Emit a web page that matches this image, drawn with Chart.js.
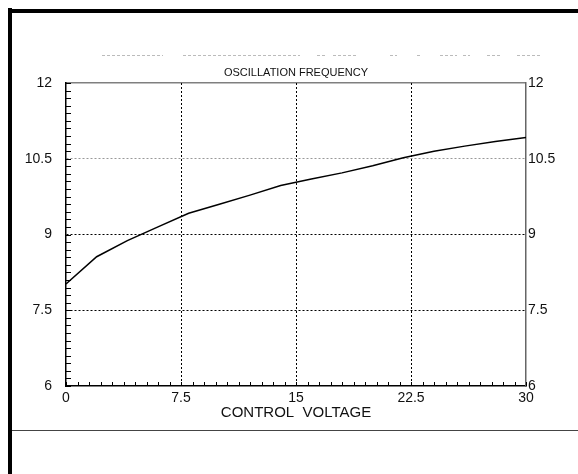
<!DOCTYPE html>
<html>
<head>
<meta charset="utf-8">
<script src="https://cdn.jsdelivr.net/npm/chart.js@4"></script>
<style>
  html, body { margin: 0; padding: 0; background: #fff; }
  #wrap { width: 578px; height: 474px; }
</style>
</head>
<body>
<div id="wrap"><canvas id="freqChart" width="578" height="474"></canvas></div>
<script>
// Data
const voltage = [0, 2, 4, 6, 8, 10, 12, 14, 16, 18, 20, 22, 24, 26, 28, 30];
const frequency = [8.02, 8.56, 8.88, 9.15, 9.42, 9.60, 9.78, 9.97, 10.10, 10.22, 10.36, 10.52, 10.65, 10.75, 10.84, 10.92];
const xTicks = [0, 7.5, 15, 22.5, 30];
const yTicks = [6, 7.5, 9, 10.5, 12];

const TEXT = '#111';
const tickFont = { family: 'Liberation Sans', size: 14 };

/* ---------- plugins ---------- */

// Outer frame, header noise and plot title
const framePlugin = {
    id: 'frame',
    beforeDraw(chart) {
        const ctx = chart.ctx;
        ctx.save();
        ctx.fillStyle = '#fff';
        ctx.fillRect(0, 0, chart.width, chart.height);

        ctx.fillStyle = '#000';
        ctx.fillRect(8, 8, 4, chart.height - 8);
        ctx.fillRect(8, 9, chart.width - 8, 4);

        ctx.strokeStyle = '#444';
        ctx.lineWidth = 1;
        ctx.beginPath();
        ctx.moveTo(12, 430.5);
        ctx.lineTo(chart.width, 430.5);
        ctx.stroke();

        // faint unreadable header line
        ctx.strokeStyle = '#bbb';
        ctx.setLineDash([3, 2]);
        [[102, 163], [183, 300], [317, 325], [333, 357], [390, 397],
         [417, 422], [440, 457], [463, 470], [487, 500], [517, 540]].forEach(([a, b]) => {
            ctx.beginPath();
            ctx.moveTo(a, 55.5);
            ctx.lineTo(b, 55.5);
            ctx.stroke();
        });
        ctx.restore();
    },
    afterDraw(chart) {
        const { ctx, chartArea } = chart;
        ctx.save();
        ctx.fillStyle = TEXT;
        ctx.font = '11px "Liberation Sans"';
        ctx.textAlign = 'center';
        ctx.textBaseline = 'middle';
        ctx.fillText('OSCILLATION FREQUENCY', (chartArea.left + chartArea.right) / 2, 73);
        ctx.restore();
    }
};

// Small inward ticks on the left and bottom axes
const minorTicks = {
    id: 'minorTicks',
    afterDatasetsDraw(chart) {
        const { ctx, scales } = chart;
        const x = scales.x, y = scales.y;
        ctx.save();
        ctx.strokeStyle = '#000';
        ctx.lineWidth = 1;
        ctx.beginPath();
        for (let i = 0; i <= 40; i++) {
            const py = Math.round(y.getPixelForValue(6 + i * 0.15)) + 0.5;
            ctx.moveTo(x.left, py);
            ctx.lineTo(x.left + 5, py);
            const px = Math.round(x.getPixelForValue(i * 0.75)) + 0.5;
            ctx.moveTo(px, y.bottom);
            ctx.lineTo(px, y.bottom - 4);
        }
        ctx.stroke();
        ctx.restore();
    }
};

/* ---------- chart ---------- */

const ctx = document.getElementById('freqChart').getContext('2d');
const freqChart = new Chart(ctx, {
    type: 'scatter',
    data: {
        datasets: [{
            label: 'Oscillation frequency',
            data: voltage.map((v, i) => ({ x: v, y: frequency[i] })),
            showLine: true,
            borderColor: '#000',
            borderWidth: 1.5,
            pointRadius: 0,
            tension: 0,
            yAxisID: 'y'
        }]
    },
    options: {
        responsive: false,
        animation: false,
        layout: { padding: { top: 83, bottom: 52, left: 0, right: 0 } },
        plugins: { legend: { display: false }, tooltip: { enabled: false } },
        scales: {
            x: {
                type: 'linear',
                min: 0,
                max: 30,
                afterFit: s => { s.height = 36; },
                afterBuildTicks: s => { s.ticks = xTicks.map(v => ({ value: v })); },
                ticks: { color: TEXT, font: tickFont, padding: 4, maxRotation: 0, autoSkip: false },
                grid: {
                    drawTicks: false,
                    color: c => (c.tick && (c.tick.value === 0 || c.tick.value === 30)) ? 'rgba(0,0,0,0)' : '#000',
                    lineWidth: 1
                },
                border: { display: true, color: '#000', width: 1.5, dash: [2, 2] },
                title: {
                    display: true,
                    text: 'CONTROL  VOLTAGE',
                    color: TEXT,
                    font: { family: 'Liberation Sans', size: 15 },
                    padding: { top: 0, bottom: 0 }
                }
            },
            y: {
                type: 'linear',
                position: 'left',
                min: 6,
                max: 12,
                afterFit: s => { s.width = 66; },
                afterBuildTicks: s => { s.ticks = yTicks.map(v => ({ value: v })); },
                ticks: { color: TEXT, font: tickFont, padding: 14 },
                grid: {
                    drawTicks: false,
                    color: c => {
                        if (!c.tick) return '#000';
                        if (c.tick.value === 6) return 'rgba(0,0,0,0)';
                        if (c.tick.value === 10.5) return '#999';
                        return '#000';
                    },
                    lineWidth: c => (c.tick && c.tick.value === 12) ? 1.5 : 1
                },
                border: {
                    display: true, color: '#000', width: 1.5,
                    dash: c => (c.tick && c.tick.value === 12) ? [1, 1] : [2, 2]
                }
            },
            yRight: {
                type: 'linear',
                position: 'right',
                min: 6,
                max: 12,
                afterFit: s => { s.width = 52; },
                afterBuildTicks: s => { s.ticks = yTicks.map(v => ({ value: v })); },
                ticks: { color: TEXT, font: tickFont, padding: 2 },
                grid: { display: false, drawTicks: false },
                border: { display: true, color: '#666', width: 1.5 }
            }
        }
    },
    plugins: [framePlugin, minorTicks]
});
</script>
</body>
</html>
